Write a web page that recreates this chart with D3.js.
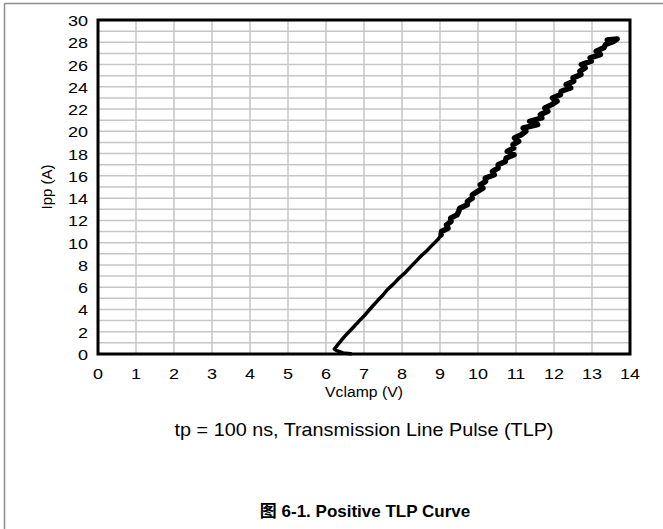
<!DOCTYPE html>
<html>
<head>
<meta charset="utf-8">
<script src="https://cdn.jsdelivr.net/npm/d3@7"></script>
<style>
  body { margin: 0; background: #fff; }
  svg { display: block; font-family: "Liberation Sans", Arial, sans-serif; }
  .tick-label { font-size: 15px; fill: #000; }
  .axis-label { font-size: 15px; fill: #000; }
</style>
</head>
<body>
<div id="chart"></div>
<script>
const width = 663, height = 529;
const margin = { top: 20, right: 33, bottom: 175, left: 98 };
const innerWidth = width - margin.left - margin.right;
const innerHeight = height - margin.top - margin.bottom;

const xTicks = d3.range(0, 15);
const yTicks = d3.range(0, 31, 2);

// TLP curve: clamp voltage (V) and pulse current (A)
const vclamp = [6.65, 6.45, 6.28, 6.22, 6.30, 6.42, 6.55, 6.72, 6.88, 7.05, 7.20, 7.36, 7.50, 7.62,
  7.78, 7.92, 8.08, 8.22, 8.36, 8.50, 8.66, 8.80, 8.95,
  9.03, 9.04, 9.21, 9.17, 9.29, 9.28, 9.45, 9.49, 9.52, 9.72, 9.72, 9.85, 9.85, 9.99, 10.13, 10.06,
  10.20, 10.19, 10.43, 10.38, 10.53, 10.53, 10.72, 10.74, 10.95, 10.77, 10.94, 10.92, 11.07, 10.96,
  11.14, 11.26, 11.19, 11.57, 11.36, 11.68, 11.64, 11.84, 11.76, 11.94, 12.08, 11.96, 12.17, 12.19,
  12.44, 12.32, 12.52, 12.50, 12.71, 12.68, 12.82, 12.72, 12.98, 12.95, 13.22, 13.11, 13.31, 13.36,
  13.58, 13.66, 13.40];
const ipp = [0.02, 0.10, 0.30, 0.45, 0.80, 1.30, 1.80, 2.40, 3.00, 3.60, 4.20, 4.80, 5.30, 5.80,
  6.30, 6.80, 7.30, 7.80, 8.30, 8.80, 9.30, 9.80, 10.30,
  10.7, 11.0, 11.3, 11.6, 11.9, 12.2, 12.5, 12.8, 13.1, 13.4, 13.7, 14.0, 14.3, 14.6, 14.9, 15.2,
  15.5, 15.8, 16.1, 16.4, 16.7, 17.0, 17.3, 17.6, 17.9, 18.2, 18.5, 18.8, 19.1, 19.4,
  19.7, 20.0, 20.3, 20.6, 20.9, 21.2, 21.5, 21.8, 22.1, 22.4, 22.7, 23.0, 23.3, 23.6,
  23.9, 24.2, 24.5, 24.8, 25.1, 25.4, 25.7, 26.0, 26.3, 26.6, 26.9, 27.2, 27.5, 27.8,
  28.1, 28.3, 28.2];

const points = vclamp.map((v, i) => ({ v, i: ipp[i] }));

const svg = d3.select("#chart")
  .append("svg")
  .attr("width", width)
  .attr("height", height);

// cropped figure frame (left and top edges only)
svg.append("line").attr("x1", 4.5).attr("x2", 4.5).attr("y1", 3.5).attr("y2", height)
  .attr("stroke", "#8c8c8c").attr("stroke-width", 1.5);
svg.append("line").attr("x1", 4.5).attr("x2", width).attr("y1", 3.5).attr("y2", 3.5)
  .attr("stroke", "#8c8c8c").attr("stroke-width", 1.5);

const innerChart = svg.append("g")
  .attr("transform", `translate(${margin.left},${margin.top})`);

const xScale = d3.scaleLinear().domain([0, 14]).range([0, innerWidth]);
const yScale = d3.scaleLinear().domain([0, 30]).range([innerHeight, 0]);

// grid: every 1 V and every 1 A
innerChart.append("g")
  .selectAll("line")
  .data(d3.range(1, 14))
  .join("line")
  .attr("x1", d => xScale(d)).attr("x2", d => xScale(d))
  .attr("y1", 0).attr("y2", innerHeight)
  .attr("stroke", "#c6c6c6").attr("stroke-width", 1.5);

innerChart.append("g")
  .selectAll("line")
  .data(d3.range(1, 30))
  .join("line")
  .attr("x1", 0).attr("x2", innerWidth)
  .attr("y1", d => yScale(d)).attr("y2", d => yScale(d))
  .attr("stroke", "#c6c6c6").attr("stroke-width", 1.5);

const line = d3.line()
  .x(d => xScale(d.v))
  .y(d => yScale(d.i));

innerChart.append("path")
  .datum(points)
  .attr("d", line)
  .attr("fill", "none")
  .attr("stroke", "#000")
  .attr("stroke-width", 3.5)
  .attr("stroke-linejoin", "round")
  .attr("stroke-linecap", "round");

// the noisy upper part of the trace is drawn heavier in the source
innerChart.append("path")
  .datum(points.filter(d => d.i >= 10.7))
  .attr("d", line)
  .attr("fill", "none")
  .attr("stroke", "#000")
  .attr("stroke-width", 5.5)
  .attr("stroke-linejoin", "round")
  .attr("stroke-linecap", "round");

innerChart.append("rect")
  .attr("width", innerWidth)
  .attr("height", innerHeight)
  .attr("fill", "none")
  .attr("stroke", "#000")
  .attr("stroke-width", 3);

// the source figure's lettering is stretched a little sideways
const placed = (x, y, sx) => `translate(${x},${y}) scale(${sx},1)`;

innerChart.append("g")
  .selectAll("text")
  .data(xTicks)
  .join("text")
  .attr("class", "tick-label")
  .attr("text-anchor", "middle")
  .attr("transform", d => placed(xScale(d), innerHeight + 25, 1.2))
  .text(d => d);

innerChart.append("g")
  .selectAll("text")
  .data(yTicks)
  .join("text")
  .attr("class", "tick-label")
  .attr("text-anchor", "end")
  .attr("transform", d => placed(-10, yScale(d) + 6, 1.2))
  .text(d => d);

svg.append("text")
  .attr("class", "axis-label")
  .attr("text-anchor", "middle")
  .attr("transform", placed(margin.left + innerWidth / 2, 397, 1.05))
  .text("Vclamp (V)");

svg.append("text")
  .attr("class", "axis-label")
  .attr("text-anchor", "middle")
  .attr("transform", `translate(52,${margin.top + innerHeight / 2}) rotate(-90)`)
  .text("Ipp (A)");

svg.append("text")
  .attr("class", "axis-label")
  .attr("text-anchor", "middle")
  .style("font-size", "18px")
  .attr("transform", placed(364, 436, 1.1))
  .text("tp = 100 ns, Transmission Line Pulse (TLP)");

svg.append("text")
  .attr("text-anchor", "middle")
  .attr("x", 365)
  .attr("y", 517)
  .style("font-size", "17px")
  .style("font-weight", "bold")
  .style("font-family", "'Liberation Sans', 'Noto Sans CJK SC', sans-serif")
  .text("图 6-1. Positive TLP Curve");
</script>
</body>
</html>
